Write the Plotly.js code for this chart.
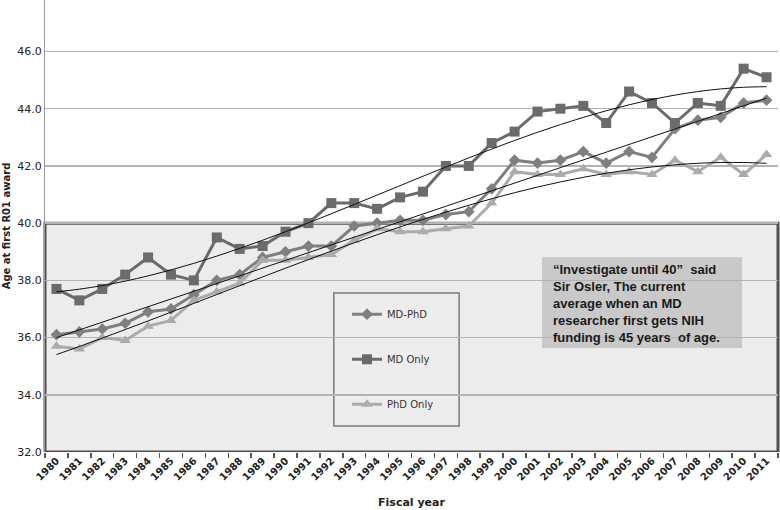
<!DOCTYPE html>
<html>
<head>
<meta charset="utf-8">
<script src="https://cdn.plot.ly/plotly-3.0.1.min.js"></script>
<style>html,body{margin:0;padding:0;background:#fff;}#chart{width:780px;height:510px;}</style>
</head>
<body>
<div id="chart"></div>
<script>
const years = ['1980','1981','1982','1983','1984','1985','1986','1987','1988','1989','1990','1991','1992','1993','1994','1995','1996','1997','1998','1999','2000','2001','2002','2003','2004','2005','2006','2007','2008','2009','2010','2011'];
const mdPhd = [36.1,36.2,36.3,36.5,36.9,37.0,37.5,38.0,38.2,38.8,39.0,39.2,39.2,39.9,40.0,40.1,40.1,40.3,40.4,41.2,42.2,42.1,42.2,42.5,42.1,42.5,42.3,43.3,43.6,43.7,44.2,44.3];
const mdOnly = [37.7,37.3,37.7,38.2,38.8,38.2,38.0,39.5,39.1,39.2,39.7,40.0,40.7,40.7,40.5,40.9,41.1,42.0,42.0,42.8,43.2,43.9,44.0,44.1,43.5,44.6,44.2,43.5,44.2,44.1,45.4,45.1];
const phdOnly = [35.7,35.6,36.0,35.9,36.4,36.6,37.3,37.6,37.9,38.7,38.7,38.8,38.9,39.4,39.8,39.7,39.7,39.8,39.9,40.7,41.8,41.7,41.7,41.9,41.7,41.8,41.7,42.2,41.8,42.3,41.7,42.4];
const seriesNames = ['MD-PhD','MD Only','PhD Only'];
const annotationText = '“Investigate until 40”  said<br>Sir Osler, The current<br>average when an MD<br>researcher first gets NIH<br>funding is 45 years  of age.';

// least-squares polynomial trend (like a spreadsheet trendline)
function polyfit(ys, order){
  const n = ys.length, m = order + 1;
  const A = [], b = [];
  for(let i=0;i<m;i++){A.push(new Array(m).fill(0)); b.push(0);}
  for(let k=0;k<n;k++){
    const x = k+1;
    for(let i=0;i<m;i++){
      b[i] += ys[k]*Math.pow(x,i);
      for(let j=0;j<m;j++) A[i][j] += Math.pow(x,i+j);
    }
  }
  for(let i=0;i<m;i++){
    let p=i; for(let r=i+1;r<m;r++) if(Math.abs(A[r][i])>Math.abs(A[p][i])) p=r;
    [A[i],A[p]]=[A[p],A[i]]; [b[i],b[p]]=[b[p],b[i]];
    for(let r=i+1;r<m;r++){const f=A[r][i]/A[i][i]; for(let c=i;c<m;c++) A[r][c]-=f*A[i][c]; b[r]-=f*b[i];}
  }
  const c = new Array(m).fill(0);
  for(let i=m-1;i>=0;i--){let s=b[i]; for(let j=i+1;j<m;j++) s-=A[i][j]*c[j]; c[i]=s/A[i][i];}
  return ys.map((_,k)=>{let x=k+1,v=0; for(let i=0;i<m;i++) v+=c[i]*Math.pow(x,i); return v;});
}

const trendMdPhd = polyfit(mdPhd,1);
const trendMd = polyfit(mdOnly,3);
const trendPhd = polyfit(phdOnly,3);

const traces = [
  {x:years,y:mdPhd,name:seriesNames[0],type:'scatter',mode:'lines+markers',legendgroup:'a',
   line:{color:'#7f7f7f',width:3},marker:{symbol:'diamond',size:9,color:'#7f7f7f'}},
  {x:years,y:mdOnly,name:seriesNames[1],type:'scatter',mode:'lines+markers',legendgroup:'b',
   line:{color:'#6b6b6b',width:3},marker:{symbol:'square',size:10,color:'#6b6b6b'}},
  {x:years,y:phdOnly,name:seriesNames[2],type:'scatter',mode:'lines+markers',legendgroup:'c',
   line:{color:'#ababab',width:3},marker:{symbol:'triangle-up',size:10,color:'#ababab'}},
  {x:years,y:trendMdPhd,type:'scatter',mode:'lines',showlegend:false,hoverinfo:'skip',line:{color:'#111',width:1}},
  {x:years,y:trendMd,type:'scatter',mode:'lines',showlegend:false,hoverinfo:'skip',line:{color:'#111',width:1,shape:'spline'}},
  {x:years,y:trendPhd,type:'scatter',mode:'lines',showlegend:false,hoverinfo:'skip',line:{color:'#111',width:1,shape:'spline'}}
];

const layout = {
  width:780,height:510,
  margin:{l:45,r:2,t:0,b:58},
  paper_bgcolor:'#ffffff',plot_bgcolor:'#ffffff',
  font:{family:'DejaVu Sans',color:'#222'},
  showlegend:true,
  legend:{x:0.412,y:0.337,xanchor:'left',yanchor:'top',bgcolor:'rgba(0,0,0,0)',borderwidth:0,
          tracegroupgap:26,font:{family:'DejaVu Sans',size:10,color:'#333'}},
  xaxis:{type:'category',range:[-0.5,31.5],tickson:'boundaries',ticks:'outside',ticklen:5,tickwidth:1.5,tickcolor:'#555',
         tickangle:-45,showgrid:false,zeroline:false,showline:false,automargin:false,
         tickfont:{family:'DejaVu Sans',size:10,color:'#222',weight:'bold'},
         title:{text:'Fiscal year',standoff:16,font:{family:'DejaVu Sans',size:11,color:'#222',weight:'bold'}}},
  yaxis:{range:[32,47.8],dtick:2,tick0:32,tickformat:'.1f',showgrid:true,gridcolor:'#b4b4b4',gridwidth:1.5,
         zeroline:false,showline:true,linecolor:'#9a9a9a',linewidth:1,ticks:'',automargin:false,
         tickfont:{family:'DejaVu Sans',size:11,color:'#222'},
         title:{text:'Age at first R01 award',standoff:4,font:{family:'DejaVu Sans',size:10,color:'#222',weight:'bold'}}},
  shapes:[
    {type:'rect',xref:'paper',yref:'y',x0:0,x1:1,y0:32,y1:40,layer:'below',fillcolor:'#ececec',line:{width:0}},
    {type:'rect',xref:'paper',yref:'y',x0:0,x1:1,y0:32,y1:40,layer:'between',fillcolor:'rgba(0,0,0,0)',line:{color:'#4f4f4f',width:3}},
    {type:'rect',xref:'paper',yref:'paper',x0:0.394,x1:0.565,y0:0.0575,y1:0.352,layer:'between',fillcolor:'#ededed',line:{color:'#7a7a7a',width:1.5}},
    {type:'rect',xref:'paper',yref:'paper',x0:0.678,x1:0.951,y0:0.230,y1:0.431,layer:'between',fillcolor:'#c9c9c9',line:{width:0}}
  ],
  annotations:[
    {xref:'paper',yref:'paper',x:0.690,y:0.424,xanchor:'left',yanchor:'top',align:'left',showarrow:false,
     text:annotationText,font:{family:'Liberation Sans',size:13,color:'#1a1a1a',weight:'bold'}}
  ]
};

Plotly.newPlot('chart',traces,layout,{displayModeBar:false,staticPlot:true});
</script>
</body>
</html>
